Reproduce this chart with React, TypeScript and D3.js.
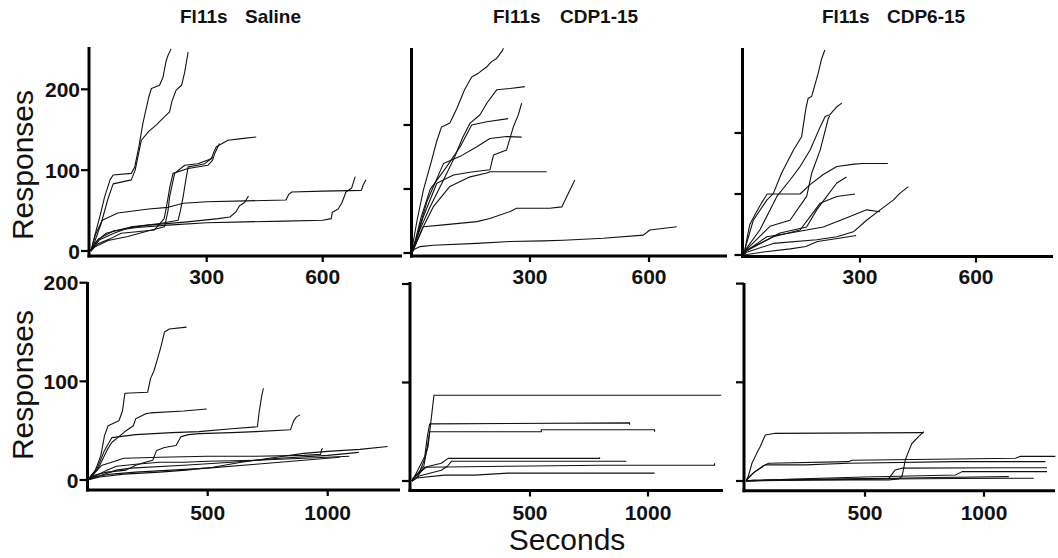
import React from "react";
import * as d3 from "d3";

type Pt = [number, number];

// ---------- DATA (seconds, cumulative responses) ----------
const panelTitles: [string, string][] = [
  ["Fl11s", "Saline"],
  ["Fl11s", "CDP1-15"],
  ["Fl11s", "CDP6-15"],
];
const topXTicks = [300, 600];
const bottomXTicks = [500, 1000];
const yTicksAll = [0, 100, 200];

const salineTop: Pt[][] = [
  [[0,0],[3,3],[10,18],[25,45],[36,67],[50,88],[58,94],[105,96],[114,104],[125,130],[135,158],[150,190],[157,201],[178,205],[187,215],[195,235],[200,242],[208,250]],
  [[0,0],[6,5],[15,18],[27,34],[45,65],[58,83],[105,88],[115,100],[131,137],[150,148],[170,156],[178,160],[204,172],[210,185],[221,199],[235,205],[243,221],[248,235],[252,246]],
  [[0,0],[10,5],[45,13],[96,18],[150,25],[191,30],[200,50],[204,67],[212,85],[217,96],[243,106],[277,108],[312,114],[318,122],[325,129],[340,133],[355,137],[390,139],[428,141]],
  [[0,0],[19,9],[50,15],[79,22],[165,26],[190,40],[196,55],[205,80],[213,96],[252,102],[303,106],[315,112],[321,121],[333,133]],
  [[0,0],[23,14],[60,22],[105,30],[180,34],[226,38],[232,50],[239,67],[245,85],[252,104],[277,106],[295,108],[316,116]],
  [[0,0],[15,12],[40,22],[90,28],[150,32],[250,36],[330,40],[360,42],[375,48],[385,56],[398,60],[408,68]],
  [[0,0],[12,20],[30,38],[70,47],[150,52],[200,54],[240,59],[300,61],[400,62],[505,63],[512,70],[520,73],[600,74],[700,75],[705,82],[712,88]],
  [[0,0],[20,15],[60,25],[120,29],[200,32],[300,35],[400,36],[500,37],[600,38],[622,40],[625,48],[640,52],[650,60],[660,73],[675,78],[684,92]],
];

const cdp1Top: Pt[][] = [
  [[0,0],[2,5],[15,50],[31,98],[50,140],[65,175],[77,197],[98,203],[115,225],[135,255],[153,275],[170,281],[191,291],[203,299],[216,304],[229,315],[233,320]],
  [[0,0],[2,5],[25,40],[48,72],[82,114],[110,150],[130,180],[149,203],[174,216],[191,234],[216,255],[250,257],[287,260]],
  [[0,0],[6,5],[30,55],[65,109],[107,122],[157,127],[199,130],[208,153],[241,161],[258,197],[270,215],[279,234]],
  [[0,0],[5,5],[25,55],[48,99],[90,135],[124,166],[153,200],[191,205],[245,210]],
  [[0,0],[5,5],[40,80],[82,140],[124,151],[166,166],[199,179],[241,182],[279,181]],
  [[0,0],[5,5],[30,40],[56,72],[98,104],[149,119],[191,125],[199,127],[342,127]],
  [[0,0],[5,3],[31,41],[82,44],[166,49],[199,54],[250,65],[266,70],[350,70],[380,72],[413,114]],
  [[0,0],[6,5],[23,10],[56,12],[166,15],[250,18],[334,19],[384,20],[485,23],[586,28],[602,36],[670,41]],
];

const cdp6Top: Pt[][] = [
  [[0,0],[3,11],[24,57],[59,90],[76,101],[97,134],[128,172],[149,194],[160,240],[166,257],[175,260],[192,298],[200,320],[209,336]],
  [[0,0],[3,8],[41,41],[85,96],[119,123],[145,145],[171,172],[197,210],[210,227],[222,230],[240,243],[253,249]],
  [[0,0],[5,8],[67,47],[119,57],[162,96],[175,134],[197,172],[218,224],[222,228]],
  [[0,0],[8,28],[15,50],[30,68],[45,85],[60,100],[145,100],[170,115],[205,132],[240,145],[285,149],[307,150],[372,150]],
  [[0,0],[5,8],[76,30],[145,41],[171,63],[197,85],[240,96],[287,100]],
  [[0,0],[5,6],[93,36],[162,46],[188,74],[214,96],[240,118],[265,128]],
  [[0,0],[5,4],[76,19],[188,25],[240,30],[283,38],[317,57],[352,74],[386,90],[403,101],[425,112]],
  [[0,0],[5,6],[59,30],[119,36],[205,46],[274,63],[317,74],[352,71]],
  [[0,0],[50,5],[120,10],[160,14],[190,22],[250,28],[290,32]],
];

const salineBottom: Pt[][] = [
  [[0,0],[20,3],[40,15],[55,25],[70,45],[85,55],[130,60],[145,70],[155,88],[250,89],[262,103],[275,110],[290,122],[305,135],[320,150],[340,153],[412,155]],
  [[0,0],[20,5],[40,10],[80,30],[100,38],[125,43],[160,50],[190,55],[200,62],[240,67],[260,68],[400,70],[496,72]],
  [[0,0],[15,5],[40,12],[70,30],[101,43],[200,46],[350,48],[464,49],[600,52],[707,54],[715,70],[725,85],[732,93]],
  [[0,0],[30,5],[80,8],[160,10],[200,15],[240,18],[271,20],[287,30],[320,33],[368,35],[389,44],[420,46],[465,47],[600,48],[700,49],[845,51],[858,60],[870,64],[885,66]],
  [[0,0],[50,3],[150,6],[300,8],[410,10],[521,13],[640,18],[757,22],[900,27],[1000,29],[1134,31],[1250,34]],
  [[0,0],[40,5],[80,10],[120,14],[200,16],[300,18],[400,18],[500,19],[700,20],[900,22],[1090,24]],
  [[0,0],[30,8],[60,15],[100,18],[150,22],[300,23],[500,24],[700,24],[900,25],[970,26],[975,31],[980,32]],
  [[0,0],[60,5],[120,10],[180,12],[400,15],[600,18],[800,22],[1000,25],[1130,28]],
  [[0,0],[20,3],[100,6],[200,8],[350,10],[500,12],[700,16],[900,20],[1050,23]],
];

const cdp1Bottom: Pt[][] = [
  [[0,0],[4,3],[30,8],[50,20],[68,35],[80,60],[93,87],[1310,87]],
  [[0,0],[10,4],[54,25],[65,45],[75,58],[922,59],[922,57]],
  [[0,0],[15,5],[50,15],[65,35],[75,50],[548,50],[548,52],[1028,52],[1028,50]],
  [[0,0],[20,4],[54,14],[124,18],[153,23],[795,23],[795,24]],
  [[0,0],[30,5],[124,11],[150,15],[167,20],[908,20]],
  [[0,0],[15,6],[61,14],[400,15],[800,16],[1282,16],[1282,18]],
  [[0,0],[20,3],[138,6],[265,6],[407,8],[700,8],[1028,8]],
];

const cdp6Bottom: Pt[][] = [
  [[0,0],[10,5],[25,18],[45,28],[60,35],[81,46.6],[123,48.3],[747,49]],
  [[0,0],[30,1],[300,1],[600,1],[640,2],[655,4.4],[662,12],[669,21],[683,30],[697,38],[725,45],[747,50]],
  [[0,0],[11,4],[40,10],[67,14.6],[95,18],[431,19.6],[445,21],[1132,23],[1153,25],[1300,25]],
  [[0,0],[30,8],[81,16.3],[249,16.3],[431,18],[880,19.6],[1258,19.6]],
  [[0,0],[100,1],[400,2],[600,2.7],[627,11.2],[655,13],[1090,13.5],[1265,13.5]],
  [[0,0],[200,2],[500,4],[880,6.1],[908,9.5],[1265,9.5]],
  [[0,0],[300,1],[600,2],[880,2.6],[1209,2.8]],
  [[0,0],[150,1],[400,2],[613,2.7],[800,3.5],[1104,4.4]],
];

// ---------- LAYOUT ----------
const FONT = '"Liberation Sans", Arial, Helvetica, sans-serif';

interface PanelCfg {
  data: Pt[][];
  xd: [number, number]; xr: [number, number];
  yd: [number, number]; yr: [number, number];
  ax: number; ay: number; top: number; right: number;
  xTicks: number[]; yTicks: number[]; yLabels: boolean; xLabelY: number;
}

const panels: PanelCfg[] = [
  { data: salineTop, xd: [0, 300], xr: [90.7, 206.7], yd: [0, 200], yr: [251, 89.3], ax: 89, ay: 256, top: 47, right: 402, xTicks: topXTicks, yTicks: yTicksAll, yLabels: true, xLabelY: 284 },
  { data: cdp1Top, xd: [0, 300], xr: [411, 530], yd: [0, 200], yr: [253, 125], ax: 411.5, ay: 256, top: 48, right: 727, xTicks: topXTicks, yTicks: yTicksAll, yLabels: false, xLabelY: 284 },
  { data: cdp6Top, xd: [0, 300], xr: [744, 860], yd: [0, 200], yr: [255, 133], ax: 742.5, ay: 256.5, top: 48, right: 1053, xTicks: topXTicks, yTicks: yTicksAll, yLabels: false, xLabelY: 284 },
  { data: salineBottom, xd: [0, 500], xr: [87.7, 207.7], yd: [0, 200], yr: [480, 282.7], ax: 87.5, ay: 490, top: 282, right: 400, xTicks: bottomXTicks, yTicks: yTicksAll, yLabels: true, xLabelY: 520 },
  { data: cdp1Bottom, xd: [0, 500], xr: [412, 530], yd: [0, 100], yr: [481, 382.5], ax: 410, ay: 490.5, top: 282, right: 723, xTicks: bottomXTicks, yTicks: yTicksAll, yLabels: false, xLabelY: 520 },
  { data: cdp6Bottom, xd: [0, 500], xr: [746, 865], yd: [0, 100], yr: [481, 382.3], ax: 744, ay: 490.7, top: 283, right: 1055, xTicks: bottomXTicks, yTicks: yTicksAll, yLabels: false, xLabelY: 520 },
];

const titlePos = [
  { a: 180, b: 245 },
  { a: 493, b: 560 },
  { a: 822, b: 887 },
];

function Panel({ cfg }: { cfg: PanelCfg }) {
  const xs = d3.scaleLinear().domain(cfg.xd).range(cfg.xr);
  const ys = d3.scaleLinear().domain(cfg.yd).range(cfg.yr);
  const line = d3.line<Pt>().x((d) => xs(d[0])).y((d) => ys(d[1]));
  return (
    <g>
      {cfg.data.map((s, i) => (
        <path key={i} d={line(s) || ""} fill="none" stroke="#111" strokeWidth={1.1} strokeLinejoin="round" />
      ))}
      <line x1={cfg.ax} x2={cfg.ax} y1={cfg.top} y2={cfg.ay + 1.5} stroke="#000" strokeWidth={3} />
      <line x1={cfg.ax - 1.5} x2={cfg.right} y1={cfg.ay} y2={cfg.ay} stroke="#000" strokeWidth={3} />
      {cfg.yTicks.map((t) => (
        <g key={"y" + t}>
          <line x1={cfg.ax - 8} x2={cfg.ax} y1={ys(t)} y2={ys(t)} stroke="#000" strokeWidth={2.2} />
          {cfg.yLabels && (
            <text x={cfg.ax - 9} y={ys(t)} dy="0.36em" textAnchor="end" fontFamily={FONT} fontWeight="bold" fontSize={21} fill="#111">
              {t}
            </text>
          )}
        </g>
      ))}
      {cfg.xTicks.map((t) => (
        <g key={"x" + t}>
          <line x1={xs(t)} x2={xs(t)} y1={cfg.ay} y2={cfg.ay + 6} stroke="#000" strokeWidth={2.2} />
          <text x={xs(t)} y={cfg.xLabelY} textAnchor="middle" fontFamily={FONT} fontWeight="bold" fontSize={21} fill="#111">
            {t}
          </text>
        </g>
      ))}
    </g>
  );
}

export default function App() {
  return (
    <svg width={1058} height={558} style={{ position: "absolute", left: 0, top: 0, background: "#fff" }}>
      <rect width={1058} height={558} fill="#fff" />
      {panelTitles.map((t, i) => (
        <g key={i}>
          <text x={titlePos[i].a} y={23} fontFamily={FONT} fontWeight="bold" fontSize={19} fill="#111">{t[0]}</text>
          <text x={titlePos[i].b} y={23} fontFamily={FONT} fontWeight="bold" fontSize={19} fill="#111">{t[1]}</text>
        </g>
      ))}
      {panels.map((p, i) => (
        <Panel key={i} cfg={p} />
      ))}
      <text transform="translate(33,165) rotate(-90)" textAnchor="middle" fontFamily={FONT} fontSize={30} fill="#111">Responses</text>
      <text transform="translate(33,385) rotate(-90)" textAnchor="middle" fontFamily={FONT} fontSize={30} fill="#111">Responses</text>
      <text x={567} y={550} textAnchor="middle" fontFamily={FONT} fontSize={30} fill="#111">Seconds</text>
    </svg>
  );
}
